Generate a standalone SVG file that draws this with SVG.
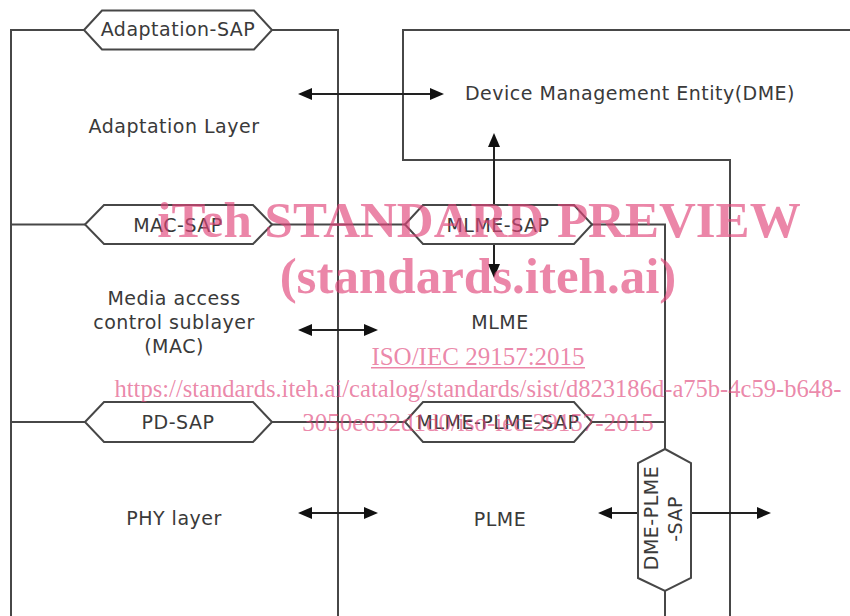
<svg xmlns="http://www.w3.org/2000/svg" width="850" height="616" viewBox="0 0 850 616">
<style>
.frame{fill:none;stroke:#474747;stroke-width:2}
.conn{fill:none;stroke:#222;stroke-width:2;marker-start:url(#ah);marker-end:url(#ah)}
.sap{fill:#fff;stroke:#474747;stroke-width:2;stroke-linejoin:miter}
.lbl{font-family:"DejaVu Sans",sans-serif;font-size:19px;letter-spacing:0.5px;fill:#3a3a3a;text-anchor:middle}
.wm{font-family:"Liberation Serif","Times New Roman",serif;fill:#e0457a;fill-opacity:0.65;text-anchor:middle}
.wmb{font-size:51px;font-weight:bold}
.wmr{font-size:25px}
</style>
<defs>
<marker id="ah" viewBox="0 0 14 12" markerWidth="14" markerHeight="12" refX="10" refY="6" orient="auto-start-reverse" markerUnits="userSpaceOnUse">
<path d="M0,0 L14,6 L0,12 z" fill="#111"/>
</marker>
</defs>
<rect width="850" height="616" fill="#fff"/>

<g id="layer-stack">
<path class="frame" d="M11,616 V30 H338 V616"/>
<path class="frame" d="M11,224.5 H665 V616"/>
<path class="frame" d="M11,422 H665"/>
</g>

<g id="dme">
<path class="frame" d="M851,30 H403 V160 H730 V616"/>
<text class="lbl" x="630" y="100">Device Management Entity(DME)</text>
</g>

<g id="connectors">
<line class="conn" x1="302" y1="94" x2="440" y2="94"/>
<line class="conn" x1="494" y1="137" x2="494" y2="274"/>
<line class="conn" x1="302" y1="330" x2="374" y2="330"/>
<line class="conn" x1="302" y1="513" x2="374" y2="513"/>
<line class="conn" x1="602" y1="513" x2="767" y2="513"/>
</g>

<g id="adaptation-sap">
<polygon class="sap" points="84,30 102,10.5 254,10.5 272,30 254,49.5 102,49.5"/>
<text class="lbl" x="178" y="36">Adaptation-SAP</text>
</g>
<g id="mac-sap">
<polygon class="sap" points="85,224.5 104,205 253,205 272,224.5 253,244 104,244"/>
<text class="lbl" x="178" y="231.5">MAC-SAP</text>
</g>
<g id="mlme-sap">
<polygon class="sap" points="405,224.5 423,205 574,205 592,224.5 574,244 423,244"/>
<text class="lbl" x="498" y="231.5">MLME-SAP</text>
</g>
<g id="pd-sap">
<polygon class="sap" points="85,422 104,402 253,402 272,422 253,442 104,442"/>
<text class="lbl" x="178" y="429">PD-SAP</text>
</g>
<g id="mlme-plme-sap">
<polygon class="sap" points="405,422 423,402 574,402 592,422 574,442 423,442"/>
<text class="lbl" x="498" y="429">MLME-PLME-SAP</text>
</g>
<g id="dme-plme-sap">
<polygon class="sap" points="665,449 691,463 691,578 665,591 638,578 638,463"/>
<text class="lbl" transform="translate(658,518) rotate(-90)">DME-PLME</text>
<text class="lbl" transform="translate(682,519) rotate(-90)">-SAP</text>
</g>

<g id="adaptation-layer">
<text class="lbl" x="174" y="133">Adaptation Layer</text>
</g>
<g id="mac">
<text class="lbl" x="174" y="305">Media access</text>
<text class="lbl" x="174" y="329">control sublayer</text>
<text class="lbl" x="174" y="353">(MAC)</text>
</g>
<g id="phy">
<text class="lbl" x="174" y="525">PHY layer</text>
</g>
<g id="mlme">
<text class="lbl" x="500" y="329">MLME</text>
</g>
<g id="plme">
<text class="lbl" x="500" y="526">PLME</text>
</g>

<g id="watermark">
<text class="wm wmb" x="479" y="237">iTeh STANDARD PREVIEW</text>
<text class="wm wmb" x="478" y="293">(standards.iteh.ai)</text>
<text class="wm wmr" x="478" y="365">ISO/IEC 29157:2015</text>
<rect x="371" y="367" width="214" height="1.5" fill="#e0457a" fill-opacity="0.65"/>
<text class="wm wmr" x="478" y="397" textLength="727" lengthAdjust="spacingAndGlyphs">https://standards.iteh.ai/catalog/standards/sist/d823186d-a75b-4c59-b648-</text>
<text class="wm wmr" x="478" y="431">3050e632d1d0/iso-iec-29157-2015</text>
</g>
</svg>
